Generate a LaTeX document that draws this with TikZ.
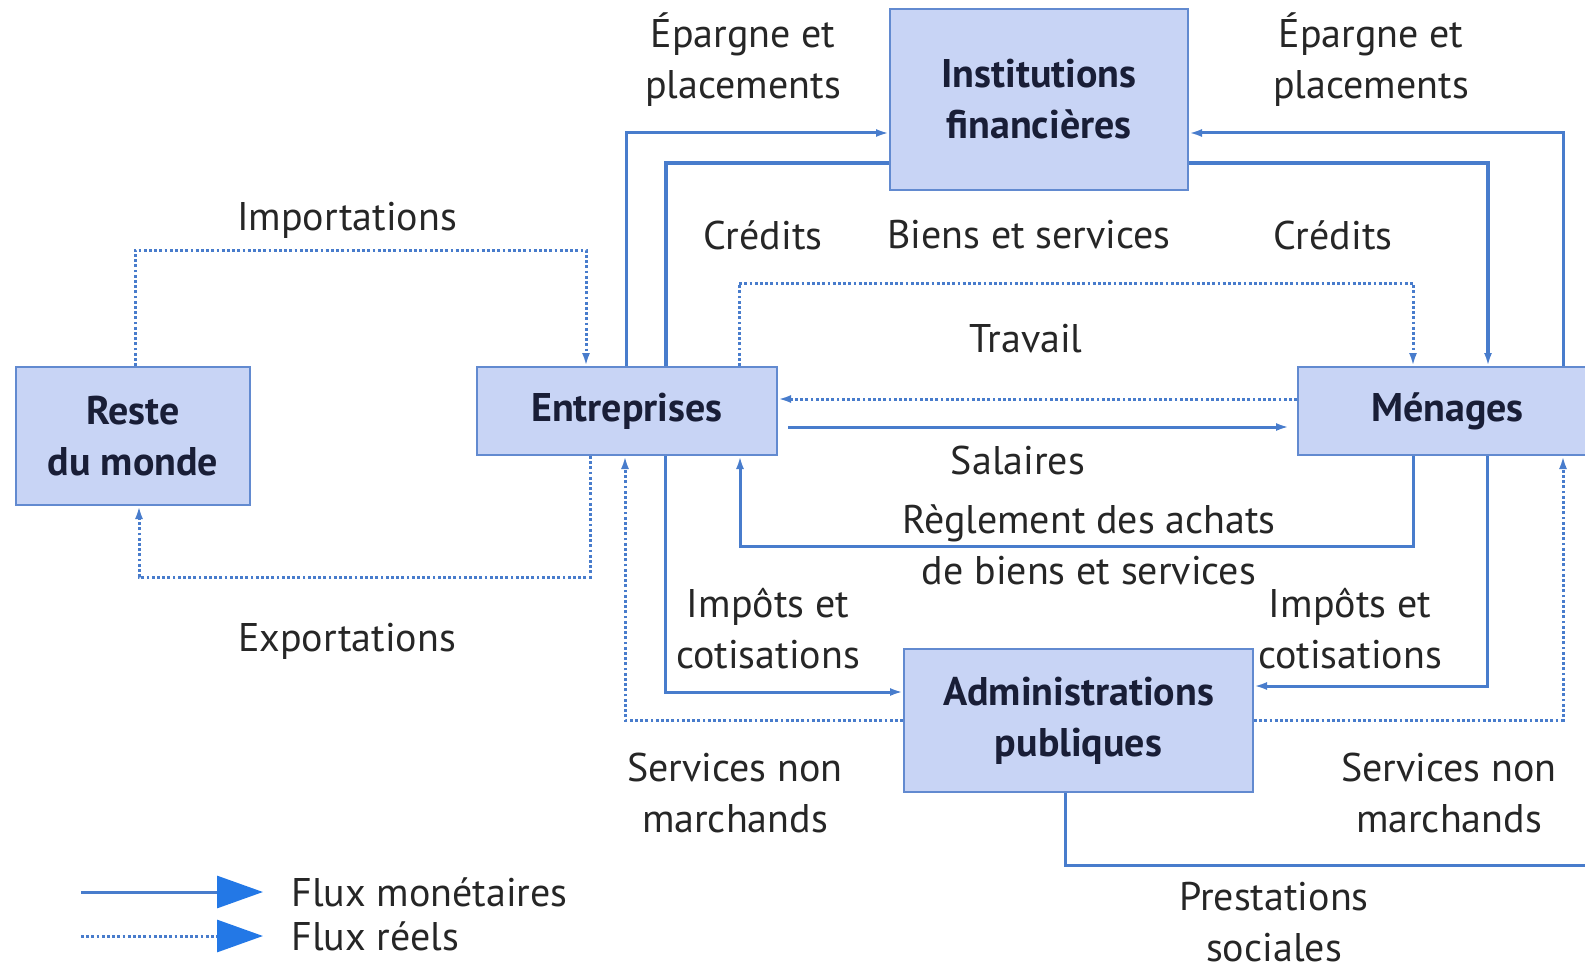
\documentclass[tikz,border=0pt]{standalone}
\usepackage{fontspec}
\setmainfont{PT Sans}
\usetikzlibrary{arrows.meta}
\definecolor{flux}{RGB}{72,124,204}
\definecolor{legblue}{RGB}{35,120,230}
\definecolor{boxfill}{RGB}{200,212,245}
\definecolor{boxline}{RGB}{98,138,208}
\definecolor{boxtext}{RGB}{25,30,55}
\definecolor{lbltext}{RGB}{38,38,38}
\tikzset{
  box/.style={draw=boxline, line width=1pt, fill=boxfill, text=boxtext, align=center,
    inner sep=0pt, font=\fontsize{20}{25.5}\selectfont\bfseries},
  lbl/.style={text=lbltext, align=center, inner sep=0pt, font=\fontsize{20}{25.5}\selectfont},
  money/.style={draw=flux, line width=1.5pt, -{Latex[length=6.5pt,width=4pt]}},
  reel/.style={money, dash pattern=on 1.4pt off 1.2pt},
}
\begin{document}
\begin{tikzpicture}[x=0.5pt,y=-0.5pt]
  \useasboundingbox (0,0) rectangle (1585,974);
  % secteurs
  \node[box, minimum width=149pt, minimum height=90.5pt] (if) at (1039,99.5) {Institutions\\financières};
  \node[box, minimum width=150pt, minimum height=44pt] (ent) at (627,411) {Entreprises};
  \node[box, minimum width=158.5pt, minimum height=44pt] (men) at (1456.5,411) {\hspace*{-9pt}Ménages};
  \node[box, minimum width=117pt, minimum height=69pt] (rdm) at (133,436) {Reste\\du monde};
  \node[box, minimum width=174.5pt, minimum height=71.5pt] (adm) at (1078.5,720.5) {Administrations\\publiques};
  % etiquettes
  \node[lbl] (epg1) at (743,60) {Épargne et\\placements};
  \node[lbl] (epg2) at (1371,60) {Épargne et\\placements};
  \node[lbl] (impo) at (347,220) {Importations};
  \node[lbl] (cred1) at (763,235) {Crédits};
  \node[lbl] (biens) at (1029,235) {Biens et services};
  \node[lbl] (cred2) at (1333,235) {Crédits};
  \node[lbl] (trav) at (1026,339) {Travail};
  \node[lbl] (sal) at (1018,460) {Salaires};
  \node[lbl] (regl) at (1089,545) {Règlement des achats\\de biens et services};
  \node[lbl] (impt1) at (768,629) {Impôts et\\cotisations};
  \node[lbl] (impt2) at (1350,629) {Impôts et\\cotisations};
  \node[lbl] (expo) at (347,641) {Exportations};
  \node[lbl] (serv1) at (735,793) {Services non\\marchands};
  \node[lbl] (serv2) at (1449,793) {Services non\\marchands};
  \node[lbl] (prest) at (1274,922) {Prestations\\sociales};
  % flux
  \begin{scope}
    \draw[money] (ent.north -| 626,0) |- (if.west |- 0,133);
    \draw[money, line width=2.2pt, -] (if.west |- 0,163) -| (ent.north -| 666,0);
    \draw[money] (men.north -| 1563,0) |- (if.east |- 0,133);
    \draw[money, line width=2.2pt] (if.east |- 0,163) -| (men.north -| 1488,0);
    \draw[reel] (ent.north -| 739,0) -- (739,283) -| (men.north -| 1413,0);
    \draw[reel] (men.west |- 0,399) -- (ent.east |- 0,399);
    \draw[money, shorten <=5pt, shorten >=4pt] (ent.east |- 0,427) -- (men.west |- 0,427);
    \draw[money] (men.south -| 1413,0) -- (1413,546) -| (ent.south -| 740,0);
    \draw[money] (ent.south -| 665,0) |- (adm.west |- 0,692);
    \draw[money] (men.south -| 1487,0) |- (adm.east |- 0,686);
    \draw[reel] (adm.west |- 0,720) -| (ent.south -| 625,0);
    \draw[reel] (adm.east |- 0,720) -| (men.south -| 1563,0);
    \draw[money] (adm.south -| 1065,0) |- (1600,865) -- (men.south -| 1600,0);
    \draw[reel] (rdm.north -| 135,0) -- (135,250) -| (ent.north -| 586,0);
    \draw[reel] (ent.south -| 590,0) -- (590,577) -| (rdm.south -| 139,0);
  \end{scope}
  % legende
  \coordinate (lgm) at (81,892);
  \coordinate (lgr) at (81,936);
  \node[lbl, anchor=west] (lmon) at (291,892) {Flux monétaires};
  \node[lbl, anchor=west] (lree) at (291,936) {Flux réels};
  \draw[money, -{Triangle[length=23pt,width=16pt,color=legblue]}, shorten >=14pt] (lgm) -- (lgm -| lmon.west);
  \draw[reel, -{Triangle[length=23pt,width=16pt,color=legblue]}, shorten >=14pt] (lgr) -- (lgr -| lree.west);
\end{tikzpicture}
\end{document}
